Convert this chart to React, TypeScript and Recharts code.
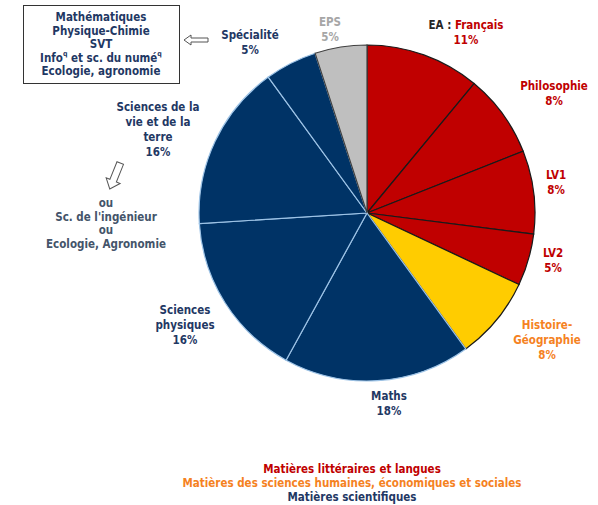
import { PieChart, Pie, Cell } from 'recharts';

// répartition horaire, sens horaire depuis midi
const subjects = [
  'EA : Français',
  'Philosophie',
  'LV1',
  'LV2',
  'Histoire-Géographie',
  'Maths',
  'Sciences physiques',
  'Sciences de la vie et de la terre',
  'Spécialité',
  'EPS',
];
const shares = [11, 8, 8, 5, 8, 18, 16, 16, 5, 5];
const groups = ['lit', 'lit', 'lit', 'lit', 'shs', 'sci', 'sci', 'sci', 'sci', 'eps'];

const labelLines = [
  ['EA : Français'],
  ['Philosophie'],
  ['LV1'],
  ['LV2'],
  ['Histoire-', 'Géographie'],
  ['Maths'],
  ['Sciences', 'physiques'],
  ['Sciences de la', 'vie et de la', 'terre'],
  ['Spécialité'],
  ['EPS'],
];

const specialites = [
  'Mathématiques',
  'Physique-Chimie',
  'SVT',
  'Info|q| et sc. du numé|q',
  'Ecologie, agronomie',
];
const alternatives = ['ou', "Sc. de l'ingénieur", 'ou', 'Ecologie, Agronomie'];

const legendItems = [
  { text: 'Matières littéraires et langues', group: 'lit' },
  { text: 'Matières des sciences humaines, économiques et sociales', group: 'shs' },
  { text: 'Matières scientifiques', group: 'sci' },
];

const data = subjects.map((name, i) => ({ name, value: shares[i], group: groups[i] }));

const FILL: Record<string, string> = {
  lit: '#C00000',
  shs: '#FFCC00',
  sci: '#003366',
  eps: '#BFBFBF',
};
const STROKE: Record<string, string> = {
  lit: '#1a1a1a',
  shs: '#1a1a1a',
  sci: '#9DC3E6',
  eps: '#404040',
};
const TEXT: Record<string, string> = {
  lit: '#C00000',
  shs: '#F5821F',
  sci: '#1F3864',
  eps: '#A6A6A6',
};

// centre du bloc de texte (x, première ligne y)
const LABEL_XY: [number, number][] = [
  [466, 25],
  [554, 86],
  [556, 175],
  [553, 253],
  [547, 325],
  [389, 396],
  [185, 310],
  [158, 107],
  [250, 35],
  [330, 22],
];

const FONT = "'DejaVu Sans Condensed', 'DejaVu Sans', Verdana, sans-serif";
const FS = 11.5;
const LH = 15;

const renderLabel = (p: any) => {
  const i = p.index as number;
  const [x, y] = LABEL_XY[i];
  const color = TEXT[groups[i]];
  const lines = labelLines[i];
  return (
    <text
      key={i}
      x={x}
      y={y}
      textAnchor="middle"
      dominantBaseline="middle"
      fontFamily={FONT}
      fontWeight="bold"
      fontSize={FS}
      fill={color}
    >
      {lines.map((l, k) => {
        if (i === 0) {
          return (
            <tspan key={k} x={x} dy={k === 0 ? 0 : LH}>
              <tspan fill="#262626">EA : </tspan>
              <tspan>Français</tspan>
            </tspan>
          );
        }
        return (
          <tspan key={k} x={x} dy={k === 0 ? 0 : LH}>
            {l}
          </tspan>
        );
      })}
      <tspan x={x} dy={LH}>{`${shares[i]}%`}</tspan>
    </text>
  );
};

export default function App() {
  return (
    <div style={{ position: 'absolute', left: 0, top: 0, width: 598, height: 505, background: '#fff' }}>
      <PieChart width={598} height={505} margin={{ top: 0, right: 0, bottom: 0, left: 0 }}>
        <Pie
          data={data}
          dataKey="value"
          nameKey="name"
          cx={367}
          cy={213}
          outerRadius={168}
          startAngle={90}
          endAngle={-270}
          label={renderLabel}
          labelLine={false}
          isAnimationActive={false}
        >
          {data.map((d, i) => (
            <Cell key={i} fill={FILL[d.group]} stroke={STROKE[d.group]} strokeWidth={1.2} />
          ))}
        </Pie>
      </PieChart>
      <svg
        width={598}
        height={505}
        style={{ position: 'absolute', left: 0, top: 0, pointerEvents: 'none' }}
        fontFamily={FONT}
        fontWeight="bold"
        fontSize={FS}
      >
        <rect x={23.5} y={5.5} width={156} height={78} fill="#fff" stroke="#333" />
        <text textAnchor="middle" fill="#1F3864" dominantBaseline="middle">
          {specialites.map((s, k) => {
            const parts = s.split('|');
            return (
              <tspan key={k} x={101} y={17 + k * 13.5}>
                {parts.map((pt, j) =>
                  pt === 'q' ? (
                    <tspan key={j} fontSize={7} dy={-4}>
                      q
                    </tspan>
                  ) : (
                    <tspan key={j} dy={j > 0 ? 4 : 0}>
                      {pt}
                    </tspan>
                  ),
                )}
              </tspan>
            );
          })}
        </text>
        <polygon
          points="184,40 191,35 191,38 208,38 208,42 191,42 191,45"
          fill="#fff"
          stroke="#555"
          strokeWidth={1}
        />
        <g transform="rotate(22 115 176)">
          <polygon
            points="111.5,162 118.5,162 118.5,181 122.5,181 115,190 107.5,181 111.5,181"
            fill="#fff"
            stroke="#555"
            strokeWidth={1}
          />
        </g>
        <text textAnchor="middle" fill="#44546A" dominantBaseline="middle">
          {alternatives.map((s, k) => (
            <tspan key={k} x={106} y={203 + k * 13.5}>
              {s}
            </tspan>
          ))}
        </text>
        <text textAnchor="middle" dominantBaseline="middle">
          {legendItems.map((it, k) => (
            <tspan key={k} x={352} y={469 + k * 14} fill={TEXT[it.group]}>
              {it.text}
            </tspan>
          ))}
        </text>
      </svg>
    </div>
  );
}
